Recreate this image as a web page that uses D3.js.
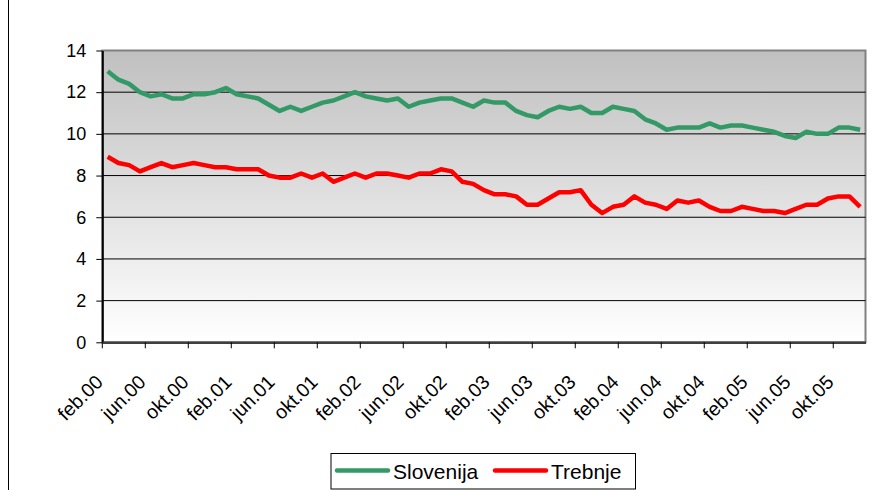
<!DOCTYPE html>
<html>
<head>
<meta charset="utf-8">
<script src="https://cdn.jsdelivr.net/npm/d3@7"></script>
<style>
  body { margin: 0; background: #fff; }
  svg { display: block; font-family: "Liberation Sans", Arial, sans-serif; }
</style>
</head>
<body>
<svg width="872" height="490"></svg>
<script>
const width = 872
const height = 490
const margin = { top: 50.5, right: 6.5, bottom: 147.7, left: 102.3 }

const years = ["00", "01", "02", "03", "04", "05"]
const monthNames = ["jan", "feb", "mar", "apr", "maj", "jun", "jul", "avg", "sep", "okt", "nov", "dec"]
const months = years.flatMap(y => monthNames.map(m => m + "." + y)).slice(1)

const slovenija = [
    13.0, 12.6, 12.4, 12.0, 11.8, 11.9, 11.7, 11.7, 11.9, 11.9, 12.0, 12.2,
    11.9, 11.8, 11.7, 11.4, 11.1, 11.3, 11.1, 11.3, 11.5, 11.6, 11.8, 12.0,
    11.8, 11.7, 11.6, 11.7, 11.3, 11.5, 11.6, 11.7, 11.7, 11.5, 11.3, 11.6,
    11.5, 11.5, 11.1, 10.9, 10.8, 11.1, 11.3, 11.2, 11.3, 11.0, 11.0, 11.3,
    11.2, 11.1, 10.7, 10.5, 10.2, 10.3, 10.3, 10.3, 10.5, 10.3, 10.4, 10.4,
    10.3, 10.2, 10.1, 9.9, 9.8, 10.1, 10.0, 10.0, 10.3, 10.3, 10.2
]
const trebnje = [
    8.9, 8.6, 8.5, 8.2, 8.4, 8.6, 8.4, 8.5, 8.6, 8.5, 8.4, 8.4,
    8.3, 8.3, 8.3, 8.0, 7.9, 7.9, 8.1, 7.9, 8.1, 7.7, 7.9, 8.1,
    7.9, 8.1, 8.1, 8.0, 7.9, 8.1, 8.1, 8.3, 8.2, 7.7, 7.6, 7.3,
    7.1, 7.1, 7.0, 6.6, 6.6, 6.9, 7.2, 7.2, 7.3, 6.6, 6.2, 6.5,
    6.6, 7.0, 6.7, 6.6, 6.4, 6.8, 6.7, 6.8, 6.5, 6.3, 6.3, 6.5,
    6.4, 6.3, 6.3, 6.2, 6.4, 6.6, 6.6, 6.9, 7.0, 7.0, 6.5
]
const yTicks = [0, 2, 4, 6, 8, 10, 12, 14]

const series = [
    { name: "Slovenija", values: slovenija, color: "#339966" },
    { name: "Trebnje", values: trebnje, color: "#ff0000" }
]

const svg = d3.select("svg")

const x = d3.scaleBand()
    .domain(months)
    .range([margin.left, width - margin.right])

const y = d3.scaleLinear()
    .domain([0, 14])
    .range([height - margin.bottom, margin.top])

const plotW = width - margin.right - margin.left
const plotH = height - margin.bottom - margin.top

svg.append("rect")
    .attr("x", 8.5).attr("y", -5)
    .attr("width", 900).attr("height", 520)
    .attr("fill", "none").attr("stroke", "#000")

const grad = svg.append("defs").append("linearGradient")
    .attr("id", "bg").attr("x1", 0).attr("y1", 0).attr("x2", 0).attr("y2", 1)
grad.append("stop").attr("offset", "0%").attr("stop-color", "#c0c0c0")
grad.append("stop").attr("offset", "100%").attr("stop-color", "#ffffff")

svg.append("rect")
    .attr("x", margin.left).attr("y", margin.top)
    .attr("width", plotW).attr("height", plotH)
    .attr("fill", "url(#bg)")
    .attr("stroke", "#808080").attr("stroke-width", 2)

svg.append("g")
    .selectAll("line")
    .data(yTicks.filter(d => d > 0 && d < 14))
    .join("line")
    .attr("x1", margin.left).attr("x2", width - margin.right)
    .attr("y1", d => y(d)).attr("y2", d => y(d))
    .attr("stroke", "#000").attr("stroke-width", 1)

const yAxis = svg.append("g")
    .attr("transform", `translate(${margin.left},0)`)
    .call(d3.axisLeft(y).tickValues(yTicks).tickSize(6).tickPadding(10).tickSizeOuter(0))
yAxis.select(".domain").attr("stroke", "#000").attr("stroke-width", 2)
yAxis.selectAll(".tick line").attr("stroke", "#000")
yAxis.selectAll("text").attr("font-size", 18).attr("fill", "#000")
    .attr("font-family", "Liberation Sans, Arial, sans-serif")

const labelled = months.filter((d, i) => i % 4 === 0)
const xAxis = svg.append("g")
    .attr("transform", `translate(0,${height - margin.bottom})`)
    .call(d3.axisBottom(x).tickValues(labelled).tickSize(6).tickSizeOuter(0))
xAxis.select(".domain").attr("stroke", "#404040").attr("stroke-width", 2.5)
xAxis.selectAll(".tick line")
    .attr("stroke", "#000")
    .attr("transform", `translate(${-x.bandwidth() / 2},0)`)
xAxis.selectAll("text")
    .attr("font-size", 19.5).attr("fill", "#000")
    .attr("font-family", "Liberation Sans, Arial, sans-serif")
    .attr("text-anchor", "end")
    .attr("dy", 0)
    .attr("y", 0)
    .attr("transform", `translate(${x.bandwidth() / 2 - 9},41) rotate(-45)`)

const line = d3.line()
    .x((d, i) => x(months[i]) + x.bandwidth() / 2)
    .y(d => y(d))

svg.append("g")
    .selectAll("path")
    .data(series)
    .join("path")
    .attr("fill", "none")
    .attr("stroke", d => d.color)
    .attr("stroke-width", 4.5)
    .attr("stroke-linejoin", "round")
    .attr("d", d => line(d.values))

const legend = svg.append("g").attr("transform", "translate(331,453.5)")
legend.append("rect")
    .attr("width", 304.5).attr("height", 35.5)
    .attr("fill", "#fff").attr("stroke", "#000").attr("stroke-width", 1)
const item = legend.selectAll("g.item")
    .data(series)
    .join("g")
    .attr("class", "item")
    .attr("transform", (d, i) => `translate(${i === 0 ? 6 : 164},0)`)
item.append("line")
    .attr("x1", 0).attr("x2", 51)
    .attr("y1", 17).attr("y2", 17)
    .attr("stroke", d => d.color).attr("stroke-width", 4.5)
    .attr("stroke-linecap", "round")
item.append("text")
    .attr("x", 56).attr("y", 25)
    .attr("font-size", 21)
    .text(d => d.name)
</script>
</body>
</html>
